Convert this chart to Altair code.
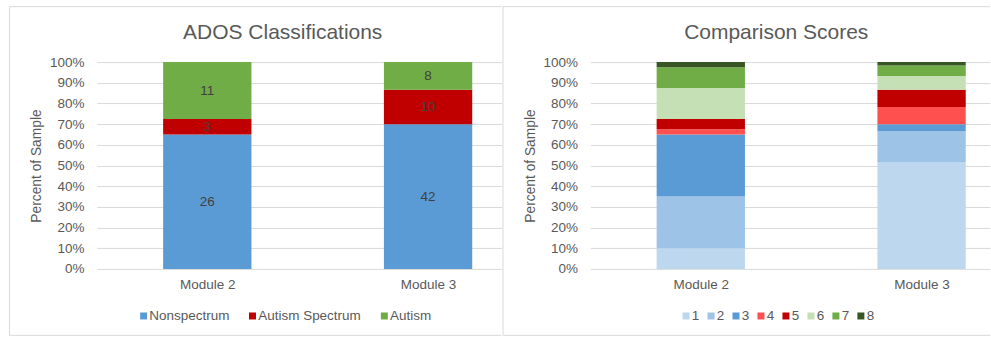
import altair as alt
import pandas as pd

# ---------------- data ----------------
modules = ["Module 2", "Module 3"]

ados_classes = ["Nonspectrum", "Autism Spectrum", "Autism"]
ados_module2 = [26, 3, 11]
ados_module3 = [42, 10, 8]
ados_colors = ["#5B9BD5", "#C00000", "#70AD47"]

score_classes = ["1", "2", "3", "4", "5", "6", "7", "8"]
score_module2 = [4, 10, 12, 1, 2, 6, 4, 1]
score_module3 = [31, 9, 2, 5, 5, 4, 3, 1]
score_colors = ["#BDD7EE", "#9DC3E6", "#5B9BD5", "#FF5050",
                "#C00000", "#C5E0B4", "#70AD47", "#375623"]

y_tick_values = [0, 0.1, 0.2, 0.3, 0.4, 0.5, 0.6, 0.7, 0.8, 0.9, 1.0]

FONT = "Liberation Sans"
GREY = "#595959"
GRID = "#D9D9D9"
PLOT_H = 207
STEP = 221.0          # pixels per category (the original plot was 2 steps wide)
HALF_BAR = 0.2        # half bar width in category units


def long_table(classes, m2, m3):
    rows = []
    for mi, (mod, vals) in enumerate(zip(modules, [m2, m3])):
        for i, (c, v) in enumerate(zip(classes, vals)):
            rows.append({"module": mod, "mi": mi, "cls": c, "count": v, "order": i})
    return pd.DataFrame(rows)


def panel(df, classes, colors, title, plot_w, title_x, legend_x, col_pad, show_labels):
    base = alt.Chart(df).transform_stack(
        stack="count",
        groupby=["module"],
        as_=["y0", "y1"],
        sort=[alt.SortField("order", order="ascending")],
        offset="normalize",
    ).transform_calculate(
        xa=f"datum.mi - {HALF_BAR}",
        xb=f"datum.mi + {HALF_BAR}",
        mid="(datum.y0 + datum.y1) / 2",
    )
    x_scale = alt.Scale(domain=[-0.5, -0.5 + plot_w / STEP], nice=False, zero=False)
    x_axis = alt.Axis(
        title=None, values=list(range(len(modules))),
        labelExpr=f"{modules}[datum.value]",
        labelAngle=0, ticks=False, labelPadding=9,
        labelFont=FONT, labelFontSize=13.5, labelColor=GREY,
        domain=False, grid=False,
    )
    y_axis = alt.Axis(
        title="Percent of Sample", values=y_tick_values, format=".0%",
        ticks=False, domain=False, grid=True, gridColor=GRID, gridWidth=1,
        labelFont=FONT, labelFontSize=13.5, labelColor=GREY, labelPadding=13,
        minExtent=47, maxExtent=47, titlePadding=6,
        titleFont=FONT, titleFontSize=13.8, titleFontWeight="normal", titleColor=GREY,
    )
    bars = base.mark_bar().encode(
        x=alt.X("xa:Q", scale=x_scale, axis=x_axis),
        x2="xb:Q",
        y=alt.Y("y0:Q", scale=alt.Scale(domain=[0, 1]), axis=y_axis),
        y2="y1:Q",
        color=alt.Color(
            "cls:N",
            scale=alt.Scale(domain=classes, range=colors),
            sort=classes,
            legend=alt.Legend(
                title=None, orient="none", direction="horizontal",
                legendX=legend_x, legendY=PLOT_H + 40,
                columns=len(classes), columnPadding=col_pad,
                symbolType="square", symbolSize=49, symbolStrokeWidth=0,
                labelFont=FONT, labelFontSize=13.5, labelColor=GREY,
                labelOffset=alt.ExprRef(expr="-1"), padding=0,
            ),
        ),
    )
    one = pd.DataFrame({"a": [1]})
    x_left = -87.5
    top_y = -55.5
    bot_y = PLOT_H + 66.5
    frame_top = alt.Chart(one).mark_rule(color=GRID, strokeWidth=1).encode(
        x=alt.value(x_left), x2=alt.value(plot_w), y=alt.value(top_y))
    frame_bot = alt.Chart(one).mark_rule(color=GRID, strokeWidth=1).encode(
        x=alt.value(x_left), x2=alt.value(plot_w), y=alt.value(bot_y))
    frame_left = alt.Chart(one).mark_rule(color=GRID, strokeWidth=1).encode(
        x=alt.value(x_left), y=alt.value(top_y), y2=alt.value(bot_y))
    title_mark = alt.Chart(one).mark_text(
        font=FONT, fontSize=21, color=GREY, align="center", baseline="alphabetic"
    ).encode(x=alt.value(title_x), y=alt.value(-23.5), text=alt.value(title))
    layers = [frame_top, frame_bot, frame_left, title_mark, bars]
    if show_labels:
        text = base.mark_text(
            font=FONT, fontSize=13.5, color="#404040", baseline="middle"
        ).encode(
            x=alt.X("mi:Q", scale=x_scale, axis=x_axis),
            y=alt.Y("mid:Q", scale=alt.Scale(domain=[0, 1]), axis=y_axis),
            text="count:Q",
        )
        layers.append(text)
    return alt.layer(*layers).properties(
        width=plot_w, height=PLOT_H,
    ).resolve_scale(color="independent")


ados_df = long_table(ados_classes, ados_module2, ados_module3)
score_df = long_table(score_classes, score_module2, score_module3)

left = panel(ados_df, ados_classes, ados_colors, "ADOS Classifications",
             405, 186, 40, 16, True)
right = panel(score_df, score_classes, score_colors, "Comparison Scores",
              400, 186, 89, 4, False)

chart = alt.hconcat(left, right, spacing=0).resolve_scale(color="independent").properties(
    padding={"left": 9, "top": 6, "right": 0, "bottom": 0},
    background="white",
).configure_view(stroke=None)

chart.save("out.html", embed_options={"renderer": "svg", "actions": False})
